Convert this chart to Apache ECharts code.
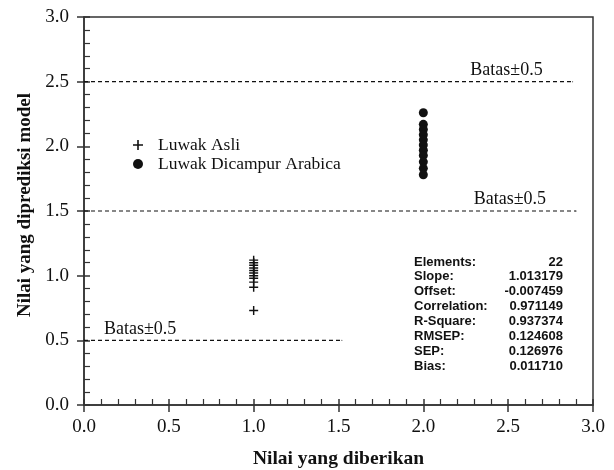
<!DOCTYPE html>
<html>
<head>
<meta charset="utf-8">
<script src="https://cdn.jsdelivr.net/npm/echarts@6/dist/echarts.min.js"></script>
<style>
  html, body { margin: 0; padding: 0; background: #fff; }
  #chart { width: 614px; height: 470px; }
</style>
</head>
<body>
<div id="chart"></div>
<script>
// predicted values (x = given value)
const asliGiven = 1;
const asliPredicted = [1.12, 1.10, 1.08, 1.06, 1.04, 1.02, 1.00, 0.98, 0.95, 0.91, 0.73];
const arabicaGiven = 2;
const arabicaPredicted = [2.26, 2.17, 2.13, 2.09, 2.05, 2.01, 1.97, 1.93, 1.88, 1.83, 1.78];

// dashed limit lines
const boundY = [2.5, 1.5, 0.5];
const boundXEnd = [2.88, 2.9, 1.52];
const boundLabel = 'Batas\u00b10.5';

const statNames = ['Elements:', 'Slope:', 'Offset:', 'Correlation:', 'R-Square:', 'RMSEP:', 'SEP:', 'Bias:'];
const statValues = ['22', '1.013179', '-0.007459', '0.971149', '0.937374', '0.124608', '0.126976', '0.011710'];

const INK = '#111';
const SERIF = '"Liberation Serif", "Times New Roman", serif';
const CROSS = 'path://M4.2,0 H5.8 V4.2 H10 V5.8 H5.8 V10 H4.2 V5.8 H0 V4.2 H4.2 Z';

const chart = echarts.init(document.getElementById('chart'));

function boundSeries(i) {
    const lbl = {show: true, formatter: boundLabel, position: 'top', distance: 2,
        color: INK, fontFamily: SERIF, fontSize: 18};
    let data;
    if (i === 2) {
        // label sits at the left end for the lower line
        data = [{value: [0, boundY[i]], label: Object.assign({}, lbl, {align: 'left', offset: [20, 0]})},
            [boundXEnd[i], boundY[i]]];
    } else {
        data = [[0, boundY[i]],
            {value: [boundXEnd[i], boundY[i]], label: Object.assign({}, lbl, {align: 'right', offset: [-30, 0]})}];
    }
    return {
        type: 'line', data: data, symbol: 'circle', symbolSize: 1, showSymbol: true, silent: true,
        itemStyle: {color: INK},
        lineStyle: {color: INK, width: 1.2, type: [4, 3]},
        emphasis: {disabled: true}, z: 1
    };
}

const axisCommon = {
    type: 'value', min: 0, max: 3, interval: 0.5,
    splitLine: {show: false}
};

const stats = [];
statNames.forEach((n, i) => {
    const y = 262 + i * 14.9;
    stats.push({type: 'text', x: 414, y: y,
        style: {text: n, fill: INK, font: 'bold 13px "Liberation Sans", Arial, sans-serif', verticalAlign: 'middle', align: 'left'}});
    stats.push({type: 'text', x: 563, y: y,
        style: {text: statValues[i], fill: INK, font: 'bold 13px "Liberation Sans", Arial, sans-serif', verticalAlign: 'middle', align: 'right'}});
});

chart.setOption({
    animation: false,
    backgroundColor: '#fff',
    grid: {left: 84, top: 17, right: 21, bottom: 65, outerBoundsMode: 'none',
        show: true, borderColor: '#333', borderWidth: 1.5},
    legend: {
        data: [{name: 'Luwak Asli', icon: CROSS}, {name: 'Luwak Dicampur Arabica', icon: 'circle'}],
        orient: 'vertical', left: 128, top: 131,
        itemWidth: 30, itemHeight: 10, itemGap: 1,
        selectedMode: false,
        itemStyle: {opacity: 1},
        textStyle: {color: INK, fontFamily: SERIF, fontSize: 17.5}
    },
    xAxis: [
        Object.assign({}, axisCommon, {
            name: 'Nilai yang diberikan', nameLocation: 'middle', nameGap: 44,
            nameTextStyle: {color: INK, fontFamily: SERIF, fontSize: 19.5, fontWeight: 'bold'},
            axisLine: {lineStyle: {color: '#333', width: 1.5}},
            axisTick: {show: true, inside: false, length: 7, lineStyle: {color: '#333', width: 1.5}},
            axisLabel: {color: INK, fontFamily: SERIF, fontSize: 19, margin: 13, formatter: v => v.toFixed(1)}
        }),
        Object.assign({}, axisCommon, {
            position: 'bottom',
            axisLine: {show: false},
            axisTick: {show: true, inside: true, length: 6, lineStyle: {color: '#333', width: 1.5}},
            minorTick: {show: true, splitNumber: 5, length: 6, lineStyle: {color: '#333', width: 1.2}},
            axisLabel: {show: false}
        })
    ],
    yAxis: [
        Object.assign({}, axisCommon, {
            name: 'Nilai yang diprediksi model', nameLocation: 'middle', nameGap: 49,
            nameTextStyle: {color: INK, fontFamily: SERIF, fontSize: 19, fontWeight: 'bold', padding: [0, 0, 0, 12]},
            axisLine: {lineStyle: {color: '#333', width: 1.5}},
            axisTick: {show: true, inside: false, length: 7, lineStyle: {color: '#333', width: 1.5}},
            axisLabel: {color: INK, fontFamily: SERIF, fontSize: 19, margin: 15, formatter: v => v.toFixed(1)}
        }),
        Object.assign({}, axisCommon, {
            position: 'left',
            axisLine: {show: false},
            axisTick: {show: true, inside: true, length: 6, lineStyle: {color: '#333', width: 1.5}},
            minorTick: {show: true, splitNumber: 5, length: 6, lineStyle: {color: '#333', width: 1.2}},
            axisLabel: {show: false}
        })
    ],
    graphic: stats,
    series: [
        boundSeries(0), boundSeries(1), boundSeries(2),
        {
            name: 'Luwak Asli', type: 'scatter', symbol: CROSS, symbolSize: 9,
            itemStyle: {color: INK, opacity: 1}, z: 3,
            data: asliPredicted.map(v => [asliGiven, v])
        },
        {
            name: 'Luwak Dicampur Arabica', type: 'scatter', symbol: 'circle', symbolSize: 9,
            itemStyle: {color: INK, opacity: 1}, z: 3,
            data: arabicaPredicted.map(v => [arabicaGiven, v])
        }
    ]
});
</script>
</body>
</html>
